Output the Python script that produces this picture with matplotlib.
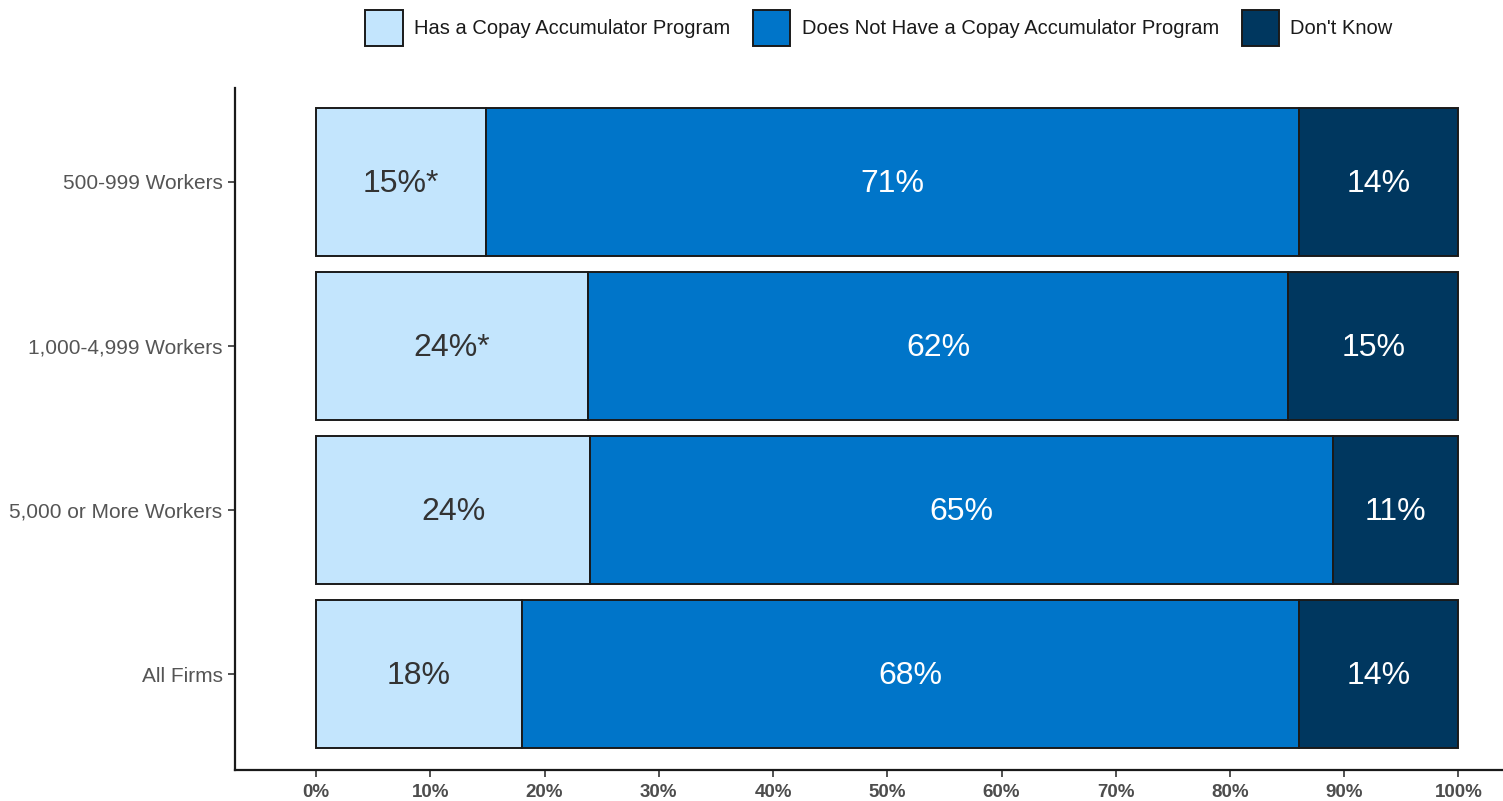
import matplotlib
matplotlib.use("Agg")
import matplotlib.pyplot as plt
from matplotlib.patches import Patch

categories = ["All Firms", "5,000 or More Workers", "1,000-4,999 Workers", "500-999 Workers"]
series_names = ["Has a Copay Accumulator Program",
                "Does Not Have a Copay Accumulator Program",
                "Don't Know"]
has_program = [18.0, 24.0, 23.8, 14.9]
no_program = [68.0, 65.0, 61.3, 71.1]
dont_know = [14.0, 11.0, 14.9, 14.0]
has_labels = ["18%", "24%", "24%*", "15%*"]
no_labels = ["68%", "65%", "62%", "71%"]
dk_labels = ["14%", "11%", "15%", "14%"]
x_ticks = [0, 10, 20, 30, 40, 50, 60, 70, 80, 90, 100]
x_tick_labels = [f"{t}%" for t in x_ticks]

colors = ["#C3E5FD", "#0075C9", "#00375F"]
text_colors = ["#333333", "white", "white"]

plt.rcParams['font.family'] = ['Liberation Sans', 'DejaVu Sans']
fig = plt.figure(figsize=(15.03, 8.01), dpi=100)
ax = fig.add_axes([235/1503, 1 - 770/801, (1503-235)/1503, (770-88)/801])

ypos = list(range(len(categories)))
series = [has_program, no_program, dont_know]
labels = [has_labels, no_labels, dk_labels]
left = [0.0] * len(categories)
for vals, labs, col, tcol in zip(series, labels, colors, text_colors):
    ax.barh(ypos, vals, left=left, height=0.9, color=col, edgecolor="#1a1a1a", linewidth=1.4)
    for y, v, l, lab in zip(ypos, vals, left, labs):
        ax.text(l + v / 2, y - 0.01, lab, ha="center", va="center", fontsize=23, color=tcol)
    left = [a + b for a, b in zip(left, vals)]

ax.set_xlim(-7.1, 103.9)
ax.set_ylim(-0.585, 3.573)
ax.set_yticks(ypos)
ax.set_yticklabels(categories, fontsize=15, color="#555555")
ax.set_xticks(x_ticks)
ax.set_xticklabels(x_tick_labels, fontsize=13.5, color="#4d4d4d", fontweight="bold")
ax.tick_params(axis="both", colors="#333333", length=5, width=1.2)
ax.tick_params(axis="x", pad=5, labelcolor="#4d4d4d")
ax.tick_params(axis="y", pad=4, labelcolor="#555555")
for s in ["top", "right"]:
    ax.spines[s].set_visible(False)
for s in ["left", "bottom"]:
    ax.spines[s].set_linewidth(1.6)
    ax.spines[s].set_color("#1a1a1a")

handles = [Patch(facecolor=c, edgecolor="#1a1a1a", linewidth=1.4, label=n)
           for c, n in zip(colors, series_names)]
fig.legend(handles=handles, loc="center", bbox_to_anchor=(879/1503, 1 - 28/801), ncol=3,
           frameon=False, fontsize=14.5, handlelength=1.85, handleheight=2.3,
           handletextpad=0.55, columnspacing=1.15, labelcolor="#1a1a1a")

fig.savefig("out.png", dpi=100)
